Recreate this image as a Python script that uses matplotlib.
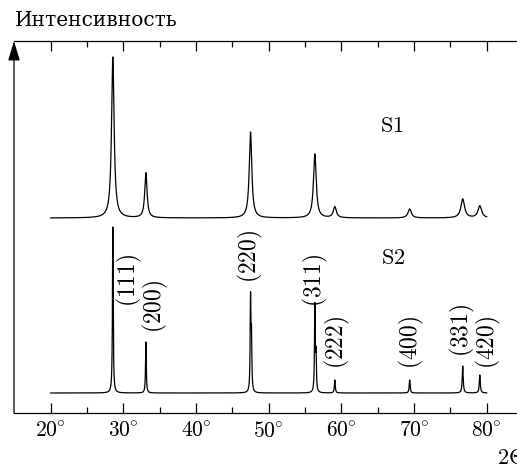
import numpy as np
import matplotlib
matplotlib.use("Agg")
import matplotlib.pyplot as plt
from matplotlib.ticker import FixedLocator

plt.rcParams["mathtext.fontset"] = "cm"
plt.rcParams["font.family"] = ["DejaVu Serif"]

# peak positions, 2theta (deg)
positions = [28.55, 33.10, 47.50, 56.35, 59.10, 69.40, 76.70, 79.05]
hkl       = ["(111)", "(200)", "(220)", "(311)", "(222)", "(400)", "(331)", "(420)"]

# sample S1 (broad peaks)
s1_base    = 195
s1_heights = [161, 45, 86, 64, 11, 9, 19, 12]
s1_widths  = [0.42, 0.38, 0.42, 0.45, 0.5, 0.55, 0.6, 0.6]

# sample S2 (narrow peaks + K-alpha2 shoulders)
s2_base    = 20
s2_heights = [166, 51, 92, 86, 13, 13, 27, 18]
s2_widths  = [0.12, 0.12, 0.12, 0.12, 0.14, 0.15, 0.16, 0.16]
s2_shoulder_pos     = [47.63, 56.51]
s2_shoulder_heights = [52, 36]

x_start, x_end = 20.0, 80.0
tick_vals = [20, 30, 40, 50, 60, 70, 80]


def lorentz(x, x0, h, w):
    return h / (1 + (2 * (x - x0) / w) ** 2)


x = np.linspace(x_start, x_end, 24000)
y1 = np.full_like(x, s1_base, dtype=float)
for p, h, w in zip(positions, s1_heights, s1_widths):
    y1 += lorentz(x, p, h, w)

y2 = np.full_like(x, s2_base, dtype=float)
for p, h, w in zip(positions, s2_heights, s2_widths):
    y2 += lorentz(x, p, h, w)
for p, h in zip(s2_shoulder_pos, s2_shoulder_heights):
    y2 += lorentz(x, p, h, 0.12)

fig = plt.figure(figsize=(5.17, 4.65), dpi=100)
ax = fig.add_axes([14 / 517, 52 / 465, 1 - 14 / 517, 372 / 465])

ax.plot(x, y1, color="black", lw=0.9)
ax.plot(x, y2, color="black", lw=0.9)

ax.set_xlim(14.95, 84.17)
ax.set_ylim(0, 372)

ax.spines["right"].set_visible(False)
ax.spines["left"].set_visible(False)
for s in ("top", "bottom"):
    ax.spines[s].set_linewidth(0.9)

ax.xaxis.set_major_locator(FixedLocator(tick_vals))
ax.xaxis.set_minor_locator(FixedLocator([25, 35, 45, 55, 65, 75]))
ax.set_xticklabels([r"$%d\!^\circ$" % v for v in tick_vals], fontsize=15.5)
ax.tick_params(axis="x", which="both", direction="in", top=True, bottom=True,
               width=0.9, pad=5)
ax.tick_params(axis="x", which="major", length=7)
ax.tick_params(axis="x", which="minor", length=4)
ax.set_yticks([])

# y-axis arrow
ax.annotate("", xy=(0, 1), xytext=(0, 0), xycoords="axes fraction",
            arrowprops=dict(arrowstyle="-|>,head_length=0.6,head_width=0.18",
                            mutation_scale=20, color="black", lw=0.9,
                            shrinkA=0, shrinkB=0))

# hkl labels
label_pos = [(30.9, 133), (34.35, 107), (47.55, 157), (56.37, 133),
             (59.5, 71), (69.7, 71), (76.6, 83), (80.2, 71)]
for lab, (lx, ly) in zip(hkl, label_pos):
    ax.text(lx, ly, "$" + lab + "$", rotation=90, ha="center", va="center",
            fontsize=17)

ax.text(66.9, 287, r"$\mathrm{S1}$", ha="center", va="center", fontsize=16)
ax.text(67.1, 155, r"$\mathrm{S2}$", ha="center", va="center", fontsize=16)

fig.text(15 / 517, 1 - 20 / 465, "Интенсивность", ha="left", va="center",
         fontsize=14.5)
fig.text(497 / 517, 1 - 458 / 465, r"$2\Theta$", ha="left", va="center",
         fontsize=16)

fig.savefig("out.png", dpi=100)
